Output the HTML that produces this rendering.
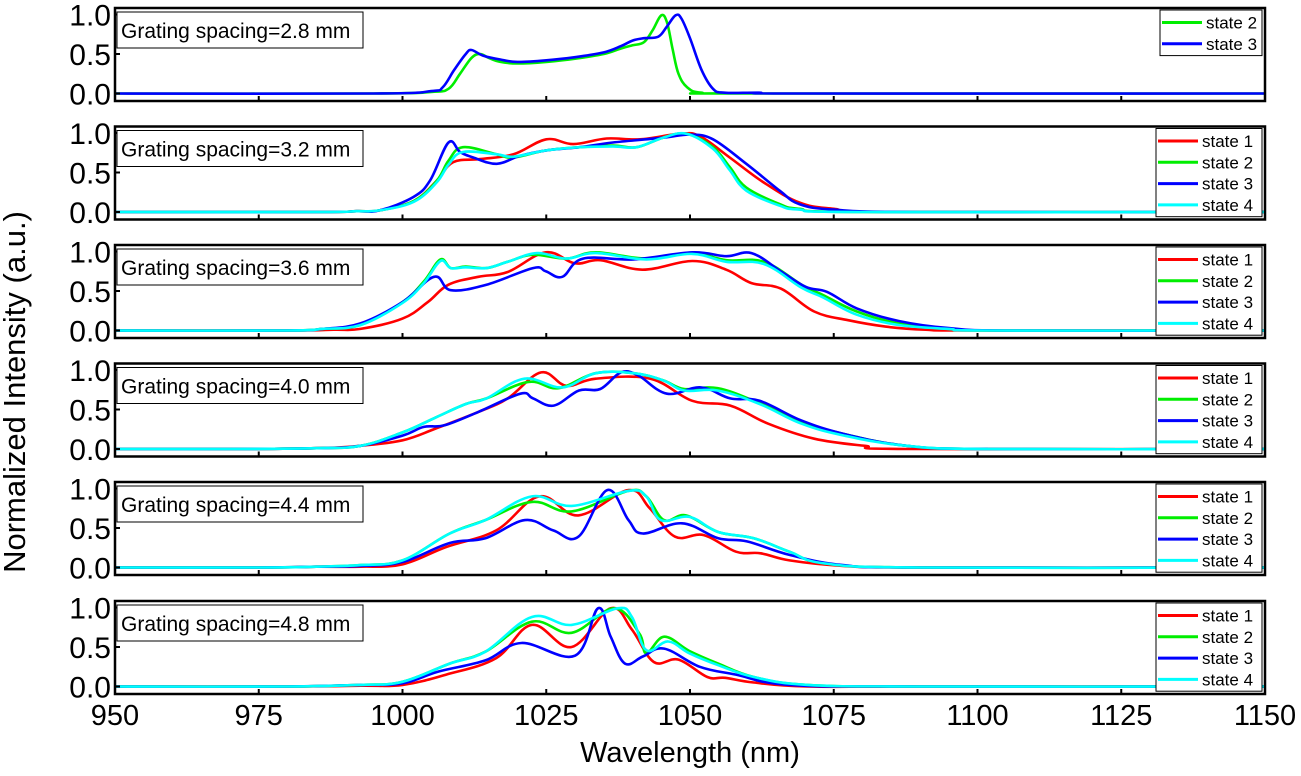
<!DOCTYPE html>
<html><head><meta charset="utf-8"><style>
body{margin:0;background:#fff;}
svg{display:block;font-family:"Liberation Sans",Arial,sans-serif;}
</style></head><body>
<svg id="chart" width="1301" height="776" viewBox="0 0 1301 776" xmlns="http://www.w3.org/2000/svg"></svg>
<script>
// ---- data ----
const xTicks = [950, 975, 1000, 1025, 1050, 1075, 1100, 1125, 1150];
const yTicks = [0.0, 0.5, 1.0];
const spacings = ["2.8", "3.2", "3.6", "4.0", "4.4", "4.8"];
const stateNames = ["state 1", "state 2", "state 3", "state 4"];
const stateColors = ["#ff0000", "#00ee00", "#0000ff", "#00ffff"];

const p1s2 = [[995,0],[1005,0.02],[1008,0.06],[1010,0.25],[1012,0.45],[1013.5,0.5],[1015,0.45],[1017,0.4],[1020,0.38],[1025,0.4],[1030,0.44],[1035,0.5],[1038,0.57],[1040,0.61],[1042,0.65],[1043.5,0.8],[1045,0.99],[1046,0.9],[1047,0.55],[1048,0.25],[1049.5,0.08],[1052,0.01],[1060,0]];
const p1s3 = [[995,0],[1005,0.03],[1007,0.08],[1009,0.3],[1011,0.5],[1012,0.55],[1014,0.48],[1017,0.43],[1020,0.4],[1025,0.42],[1030,0.46],[1035,0.52],[1038,0.6],[1040,0.67],[1042,0.7],[1044.5,0.72],[1046,0.85],[1047.5,0.99],[1048.5,0.95],[1050,0.7],[1052,0.3],[1054,0.06],[1056,0.01],[1062,0.01],[1070,0]];

const p2s1 = [[985,0],[992,0.01],[996,0.02],[1002,0.14],[1006,0.4],[1008.8,0.63],[1013.5,0.67],[1019.3,0.73],[1025,0.92],[1029.7,0.86],[1035.5,0.93],[1041.3,0.92],[1048.2,0.99],[1051.7,0.96],[1056.9,0.69],[1062.7,0.38],[1069,0.12],[1075,0.04],[1085,0]];
const p2s2 = [[985,0],[992,0.01],[996,0.02],[1002,0.14],[1006,0.4],[1008,0.65],[1010.5,0.82],[1016.4,0.73],[1019.3,0.69],[1025,0.78],[1030.8,0.82],[1036.6,0.84],[1040.7,0.82],[1045.3,0.94],[1049.4,0.99],[1054,0.82],[1056.9,0.57],[1059.8,0.31],[1065.6,0.1],[1069,0.04],[1080,0]];
const p2s3 = [[985,0],[992,0.01],[996,0.02],[1001.9,0.19],[1004.8,0.4],[1008,0.88],[1010,0.76],[1012.3,0.69],[1016.4,0.61],[1020.4,0.71],[1025,0.78],[1030.8,0.82],[1036.6,0.88],[1045.3,0.94],[1050,0.98],[1054,0.92],[1059.8,0.61],[1065.6,0.27],[1069,0.1],[1075,0.03],[1090,0]];
const p2s4 = [[985,0],[992,0.01],[996,0.02],[1002,0.13],[1006,0.38],[1008,0.6],[1010.5,0.76],[1016.4,0.73],[1019.3,0.7],[1025,0.78],[1030.8,0.82],[1036.6,0.83],[1040.7,0.82],[1045.3,0.94],[1049.4,0.99],[1054,0.8],[1056.9,0.53],[1059.8,0.27],[1065.6,0.08],[1069,0.03],[1080,0]];

const p3s1 = [[980,0],[988,0.01],[992.7,0.02],[1000,0.15],[1004.4,0.36],[1008,0.58],[1013.2,0.68],[1018.3,0.74],[1024.9,0.99],[1030,0.85],[1034.4,0.89],[1041.7,0.77],[1050.4,0.88],[1056.3,0.77],[1060.7,0.6],[1065.8,0.53],[1071.6,0.24],[1077.5,0.13],[1084,0.05],[1091,0.01],[1100,0]];
const p3s2 = [[980,0],[986,0.02],[992.7,0.07],[1000,0.36],[1003.7,0.62],[1006.6,0.9],[1008.4,0.79],[1011,0.81],[1014.6,0.79],[1018.3,0.87],[1022.7,0.96],[1028.5,0.91],[1033.6,0.99],[1042.4,0.91],[1050.4,0.98],[1056.3,0.89],[1062.9,0.87],[1069.4,0.58],[1073.1,0.45],[1079,0.24],[1086.3,0.09],[1095,0.02],[1102,0]];
const p3s3 = [[980,0],[986,0.02],[992.7,0.09],[1000,0.36],[1005.5,0.68],[1008.4,0.51],[1014.6,0.58],[1022.7,0.79],[1024.9,0.75],[1027.8,0.68],[1031.4,0.91],[1040.2,0.9],[1050.4,0.99],[1056.3,0.94],[1060.7,0.98],[1065.8,0.75],[1070.2,0.55],[1073.8,0.49],[1079,0.28],[1086.3,0.12],[1095,0.03],[1106,0]];
const p3s4 = [[980,0],[986,0.02],[992.7,0.07],[1000,0.35],[1003.7,0.6],[1006.6,0.88],[1008.4,0.79],[1011,0.8],[1014.6,0.79],[1018.3,0.87],[1023.4,0.98],[1028.5,0.91],[1033.6,0.98],[1042.4,0.9],[1050.4,0.97],[1056.3,0.87],[1062.9,0.84],[1069.4,0.54],[1073.1,0.42],[1079,0.2],[1086.3,0.07],[1095,0.02],[1102,0]];

const p4s1 = [[970,0],[985,0.01],[992.7,0.04],[1000,0.11],[1005.8,0.26],[1013.2,0.47],[1018.3,0.64],[1024.1,0.97],[1028.5,0.8],[1033.6,0.89],[1043.1,0.89],[1050.4,0.61],[1057,0.55],[1063.6,0.32],[1071.6,0.13],[1080.4,0.04],[1087.7,0]];
const p4s2 = [[970,0],[985,0.01],[992.7,0.04],[1000,0.21],[1005.8,0.4],[1011,0.57],[1014.6,0.64],[1021.9,0.85],[1027.1,0.77],[1033.6,0.96],[1040.2,0.96],[1045.3,0.87],[1049,0.76],[1054.8,0.77],[1062.1,0.58],[1069.4,0.34],[1076.8,0.19],[1087.7,0.04],[1102,0]];
const p4s3 = [[970,0],[985,0.01],[992.7,0.04],[1000,0.17],[1003.7,0.28],[1007.3,0.3],[1013.2,0.47],[1020.5,0.7],[1022.7,0.64],[1026.3,0.55],[1030.7,0.74],[1034.4,0.76],[1038,0.97],[1041,0.93],[1046,0.7],[1051.9,0.78],[1057,0.64],[1062.1,0.61],[1069.4,0.36],[1076.8,0.19],[1087.7,0.04],[1102,0]];
const p4s4 = [[970,0],[985,0.01],[992.7,0.04],[1000,0.21],[1005.8,0.4],[1011,0.57],[1014.6,0.64],[1021.2,0.89],[1027.8,0.78],[1033.6,0.96],[1040.2,0.96],[1045.3,0.87],[1049,0.74],[1054.8,0.74],[1062.1,0.57],[1069.4,0.32],[1076.8,0.17],[1087.7,0.04],[1102,0]];

const p5s1 = [[975,0],[985,0.01],[992.7,0.01],[1000,0.04],[1007.6,0.26],[1016.3,0.47],[1023.8,0.9],[1030.6,0.66],[1039.3,0.98],[1043,0.75],[1047.4,0.39],[1052.4,0.41],[1058,0.2],[1062.3,0.18],[1067.3,0.09],[1076.6,0.02],[1090,0]];
const p5s2 = [[975,0],[985,0.01],[992.7,0.03],[1000,0.09],[1008.2,0.43],[1014.4,0.6],[1022.5,0.83],[1029.4,0.71],[1039.3,0.97],[1042.4,0.9],[1045.5,0.6],[1049.3,0.66],[1054.9,0.45],[1061.1,0.37],[1067.3,0.2],[1073.5,0.05],[1090,0]];
const p5s3 = [[975,0],[985,0.01],[992.7,0.02],[1000,0.07],[1008.2,0.31],[1014.4,0.37],[1021.3,0.6],[1026.2,0.47],[1030.6,0.39],[1035.6,0.98],[1039.3,0.6],[1041.8,0.43],[1048.6,0.56],[1054.9,0.37],[1059.9,0.33],[1067.3,0.16],[1076.6,0.03],[1090,0]];
const p5s4 = [[975,0],[985,0.01],[992.7,0.03],[1000,0.09],[1008.2,0.43],[1014.4,0.6],[1022.5,0.9],[1029.4,0.78],[1039.3,0.97],[1042.4,0.9],[1044.9,0.6],[1049.9,0.64],[1054.9,0.45],[1061.1,0.37],[1067.3,0.2],[1073.5,0.05],[1090,0]];

const p6s1 = [[980,0],[992.7,0.01],[1000,0.02],[1007.6,0.15],[1016.3,0.36],[1022.5,0.78],[1029.4,0.5],[1036.2,0.99],[1039.9,0.72],[1043.7,0.31],[1048,0.34],[1053,0.12],[1056.1,0.11],[1061.1,0.05],[1070.4,0],[1090,0]];
const p6s2 = [[980,0],[992.7,0.02],[1000,0.06],[1008.2,0.29],[1014.4,0.44],[1022.5,0.82],[1029.4,0.68],[1036.8,0.99],[1041.2,0.67],[1042.4,0.42],[1045.5,0.63],[1049.9,0.45],[1054.9,0.29],[1061.1,0.12],[1070.4,0.02],[1090,0]];
const p6s3 = [[980,0],[992.7,0.02],[1000,0.04],[1006.3,0.19],[1014.4,0.33],[1020.7,0.55],[1030,0.39],[1034,0.99],[1036.2,0.63],[1038.7,0.29],[1041.8,0.38],[1045.5,0.48],[1051.7,0.25],[1058,0.15],[1067.3,0.02],[1090,0]];
const p6s4 = [[980,0],[992.7,0.02],[1000,0.06],[1008.2,0.29],[1014.4,0.44],[1022.5,0.88],[1029.4,0.78],[1037.4,0.99],[1039.9,0.88],[1042.4,0.46],[1046.2,0.57],[1049.9,0.42],[1054.9,0.27],[1061.1,0.12],[1070.4,0.02],[1090,0]];

const panelSeries = [
  [null, p1s2, p1s3, null],
  [p2s1, p2s2, p2s3, p2s4],
  [p3s1, p3s2, p3s3, p3s4],
  [p4s1, p4s2, p4s3, p4s4],
  [p5s1, p5s2, p5s3, p5s4],
  [p6s1, p6s2, p6s3, p6s4]
];

// ---- layout ----
const svg = document.getElementById('chart');
const NS = 'http://www.w3.org/2000/svg';
const L = 115, R = 1265, PH = 93;
const panelTops = [8, 126.5, 245, 363.5, 482, 601];
function xs(w){ return L + (w - 950) / 200 * (R - L); }
function ys(top, v){ return top + 85.5 - v * 79; }
function mk(tag, attrs, parent){
  const el = document.createElementNS(NS, tag);
  for (const k in attrs) el.setAttribute(k, attrs[k]);
  (parent || svg).appendChild(el);
  return el;
}
function smoothPath(P){
  // Catmull-Rom to cubic bezier, clamped control points
  let d = 'M' + P[0][0].toFixed(1) + ' ' + P[0][1].toFixed(1);
  const k = 0.18;
  for (let i = 0; i < P.length - 1; i++){
    const p0 = P[Math.max(0, i - 1)], p1 = P[i], p2 = P[i + 1], p3 = P[Math.min(P.length - 1, i + 2)];
    const c1x = p1[0] + (p2[0] - p0[0]) * k, c1y = p1[1] + (p2[1] - p0[1]) * k;
    const c2x = p2[0] - (p3[0] - p1[0]) * k, c2y = p2[1] - (p3[1] - p1[1]) * k;
    d += ' C' + c1x.toFixed(1) + ' ' + c1y.toFixed(1) + ' ' + c2x.toFixed(1) + ' ' + c2y.toFixed(1) + ' ' + p2[0].toFixed(1) + ' ' + p2[1].toFixed(1);
  }
  return d;
}

panelSeries.forEach((series, pi) => {
  const top = panelTops[pi];
  const g = mk('g', {});
  
  
  const clipId = 'clip' + pi;
  const cp = mk('clipPath', {id: clipId}, g);
  mk('rect', {x: L, y: top, width: R - L, height: PH}, cp);
  const draw = [0, 1, 2, 3];
  draw.forEach(si => {
    const pts = series[si];
    if (!pts) return;
    const all = [[950, 0]].concat(pts).concat([[1150, 0]]);
    const P = all.map(p => [xs(p[0]), Math.min(ys(top, p[1]), ys(top, 0))]);
    const path = mk('path', {d: smoothPath(P), fill: 'none', stroke: stateColors[si], 'stroke-width': 2.6, 'stroke-linejoin': 'round', 'clip-path': 'url(#' + clipId + ')'}, g);
    
    
  });
  const fr = mk('rect', {x: L, y: top, width: R - L, height: PH, fill: 'none', stroke: '#000', 'stroke-width': 2.5}, g);
  
  
  xTicks.forEach((t, i) => {
    if (i === 0 || i === xTicks.length - 1) return;
    const tk = mk('line', {x1: xs(t), x2: xs(t), y1: top + PH, y2: top + PH - 5, stroke: '#000', 'stroke-width': 2}, g);
    
    
  });
  yTicks.forEach(v => {
    const tk = mk('line', {x1: L, x2: L + 5, y1: ys(top, v), y2: ys(top, v), stroke: '#000', 'stroke-width': 2}, g);
    
    
    const tx = mk('text', {x: 111, y: ys(top, v) + 11, 'font-size': 30, 'text-anchor': 'end', fill: '#000'}, g);
    tx.textContent = v.toFixed(1);
    
    
  });
  const lb = mk('rect', {x: 117, y: top + 4, width: 246, height: 36, fill: '#fff', stroke: '#000', 'stroke-width': 1}, g);
  
  
  const lt = mk('text', {x: 121, y: top + 30, 'font-size': 21, fill: '#000'}, g);
  lt.textContent = 'Grating spacing=' + spacings[pi] + ' mm';
  
  
  const idx = draw.filter(si => series[si]);
  const lg = mk('g', {}, g);
  
  
  const lx = idx.length === 2 ? 1160 : 1156;
  const lbx = mk('rect', {x: lx, y: top + 2, width: 1262 - lx, height: idx.length * 21.3 + 3, fill: '#fff', stroke: '#000', 'stroke-width': 1}, lg);
  
  
  idx.forEach((si, k) => {
    const yy = top + 14.5 + k * 21.3;
    const ln = mk('line', {x1: lx + 2, x2: lx + 42, y1: yy, y2: yy, stroke: stateColors[si], 'stroke-width': 3}, lg);
    
    
    const t = mk('text', {x: lx + 46, y: yy + 6, 'font-size': 17, fill: '#000'}, lg);
    t.textContent = stateNames[si];
    
    
  });
});

xTicks.forEach(t => {
  const tx = mk('text', {x: xs(t), y: 725, 'font-size': 29, 'text-anchor': 'middle', fill: '#000'});
  tx.textContent = t;
  
  
});
const xt = mk('text', {x: 690, y: 762, 'font-size': 29, 'text-anchor': 'middle', fill: '#000'});
xt.textContent = 'Wavelength (nm)';


const yt = mk('text', {x: 0, y: 0, 'font-size': 31, 'text-anchor': 'middle', fill: '#000', transform: 'translate(25,392) rotate(-90)'});
yt.textContent = 'Normalized Intensity (a.u.)';


</script>
</body></html>
